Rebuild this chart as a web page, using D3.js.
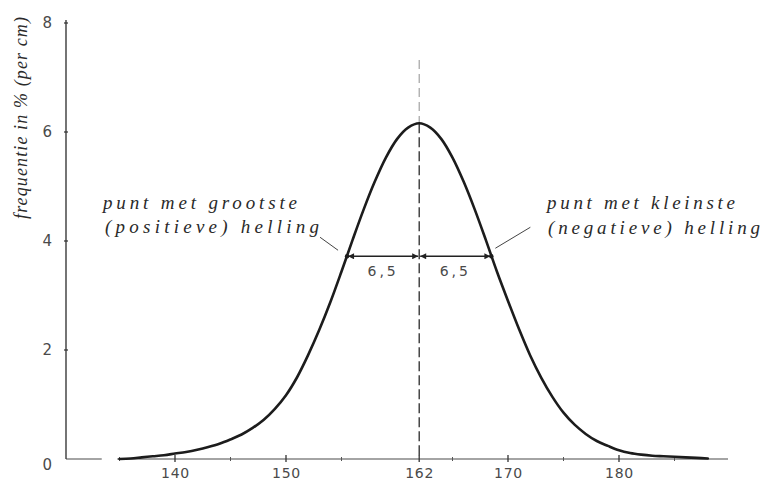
<!DOCTYPE html>
<html>
<head>
<meta charset="utf-8">
<script src="https://cdn.jsdelivr.net/npm/d3@7/dist/d3.min.js"></script>
<style>
  html, body { margin: 0; padding: 0; background: #fff; }
  svg { display: block; }
  .hand { font-family: "Liberation Serif", "DejaVu Serif", serif; font-style: italic; fill: #2a2a2a; }
  .tick-label { font-family: "DejaVu Sans", "Liberation Sans", sans-serif; fill: #4a4a4a; }
</style>
</head>
<body>
<svg id="chart" width="764" height="483"></svg>
<script>
// Body length (cm) and frequency (% per cm) along the bell curve
const lengthCm = [135, 136, 137, 138, 139, 140, 141, 142, 143, 144, 145, 146, 147, 148, 149,
                  150, 151, 152, 153, 154, 155, 156, 157, 158, 159, 160, 161, 162, 163, 164,
                  165, 166, 167, 168, 169, 170, 171, 172, 173, 174, 175, 176, 177, 178, 179,
                  180, 181, 182, 183, 184, 185, 186, 187, 188];
const frequency = [0.00, 0.01, 0.03, 0.05, 0.07, 0.10, 0.13, 0.17, 0.22, 0.28, 0.36, 0.45, 0.57, 0.72, 0.92,
                   1.17, 1.50, 1.91, 2.37, 2.88, 3.44, 4.02, 4.58, 5.09, 5.53, 5.87, 6.08, 6.16, 6.08, 5.87,
                   5.53, 5.09, 4.58, 4.02, 3.44, 2.90, 2.38, 1.90, 1.49, 1.14, 0.85, 0.63, 0.46, 0.33, 0.24,
                   0.16, 0.11, 0.08, 0.06, 0.05, 0.04, 0.03, 0.02, 0.01];

// Axis ticks and labels
const xMajorTicks = [140, 150, 162, 170, 180];
const xMinorTicks = [135, 145, 155, 165, 175, 185];
const yTicks = [0, 2, 4, 6, 8];

// Mean, standard deviation and the height of the inflection points
const meanCm = 162;
const sdCm = 6.5;
const inflectionLevel = 3.72;
const meanLineTop = 7.32;
const sdLabel = "6,5";

const svg = d3.select("#chart");

const x = d3.scaleLinear().domain([140, 180]).range([175, 619]);
const y = d3.scaleLinear().domain([0, 8]).range([459, 23]);

const xStart = x.invert(66);
const xEnd = x.invert(728);

// ---- x axis: thin base line with small crossing ticks
const axisColor = "#4a4a4a";
const baseSegments = [[xStart, 133.4], [134.8, xEnd]];
svg.append("g").selectAll("line")
  .data(baseSegments)
  .join("line")
  .attr("x1", d => x(d[0])).attr("x2", d => x(d[1]))
  .attr("y1", y(0)).attr("y2", y(0))
  .attr("stroke", axisColor).attr("stroke-width", 1.1);

const xAxis = d3.axisBottom(x)
  .tickValues(xMajorTicks)
  .tickFormat(d3.format("d"))
  .tickSize(0)
  .tickPadding(9);
const gx = svg.append("g")
  .attr("transform", `translate(0,${y(0)})`)
  .call(xAxis);
gx.select(".domain").remove();
gx.selectAll("text")
  .attr("class", "tick-label")
  .attr("font-size", 14)
  .attr("letter-spacing", 0.8)
  .attr("fill", "#4a4a4a");

svg.append("g").selectAll("line")
  .data(xMajorTicks)
  .join("line")
  .attr("x1", d => x(d)).attr("x2", d => x(d))
  .attr("y1", y(0) - 4).attr("y2", y(0) + 3)
  .attr("stroke", "#333").attr("stroke-width", 1.3);

svg.append("g").selectAll("line")
  .data(xMinorTicks)
  .join("line")
  .attr("x1", d => x(d)).attr("x2", d => x(d))
  .attr("y1", y(0) - 2).attr("y2", y(0) + 2)
  .attr("stroke", "#555").attr("stroke-width", 1);

// ---- y axis
const yAxis = d3.axisLeft(y)
  .tickValues(yTicks)
  .tickFormat(d3.format("d"))
  .tickSize(0)
  .tickPadding(14);
const gy = svg.append("g")
  .attr("transform", `translate(${x(xStart)},0)`)
  .call(yAxis);
gy.select(".domain")
  .attr("stroke", "#3a3a3a")
  .attr("stroke-width", 1.4)
  .attr("d", `M0,${y(0)}V${y(8) - 3}`);
gy.selectAll("text")
  .attr("class", "tick-label")
  .attr("font-size", 15)
  .attr("fill", "#4a4a4a");
gy.selectAll(".tick").filter(d => d === 0).select("text").attr("dy", "0.7em");

svg.append("g").selectAll("line")
  .data(yTicks.filter(d => d > 0))
  .join("line")
  .attr("x1", x(xStart) - 2).attr("x2", x(xStart) + 2)
  .attr("y1", d => y(d)).attr("y2", d => y(d))
  .attr("stroke", "#333").attr("stroke-width", 1.2);

// y axis title, written bottom to top
svg.append("text")
  .attr("class", "hand")
  .attr("transform", `translate(27,${y(4) - 123}) rotate(-90)`)
  .attr("text-anchor", "middle")
  .attr("font-size", 18)
  .attr("textLength", 202)
  .attr("lengthAdjust", "spacing")
  .attr("fill", "#444")
  .text("frequentie in % (per cm)");

// ---- vertical line through the mean
svg.append("line")
  .attr("x1", x(meanCm)).attr("x2", x(meanCm))
  .attr("y1", y(meanLineTop)).attr("y2", y(6.16))
  .attr("stroke", "#9a9a9a").attr("stroke-width", 1.1)
  .attr("stroke-dasharray", "9,5");
svg.append("line")
  .attr("x1", x(meanCm)).attr("x2", x(meanCm))
  .attr("y1", y(6.16)).attr("y2", y(0))
  .attr("stroke", "#2a2a2a").attr("stroke-width", 1.3)
  .attr("stroke-dasharray", "10,4");

// ---- the bell curve
const points = lengthCm.map((c, i) => [c, frequency[i]]);
const line = d3.line()
  .x(d => x(d[0]))
  .y(d => y(d[1]))
  .curve(d3.curveCatmullRom.alpha(0.5));

svg.append("path")
  .datum(points)
  .attr("fill", "none")
  .attr("stroke", "#1c1c1c")
  .attr("stroke-width", 2.6)
  .attr("stroke-linejoin", "round")
  .attr("stroke-linecap", "round")
  .attr("d", line);

// ---- double-headed arrows of one standard deviation
const defs = svg.append("defs");
defs.append("marker")
  .attr("id", "head")
  .attr("viewBox", "0 0 10 10")
  .attr("refX", 10).attr("refY", 5)
  .attr("markerWidth", 8).attr("markerHeight", 6)
  .attr("markerUnits", "userSpaceOnUse")
  .attr("orient", "auto-start-reverse")
  .append("path")
  .attr("d", "M0,0L10,5L0,10z")
  .attr("fill", "#222");

const spans = [[meanCm - sdCm, meanCm], [meanCm, meanCm + sdCm]];
svg.append("g").selectAll("line")
  .data(spans)
  .join("line")
  .attr("x1", d => x(d[0]) + 1).attr("x2", d => x(d[1]) - 1)
  .attr("y1", y(inflectionLevel)).attr("y2", y(inflectionLevel))
  .attr("stroke", "#222").attr("stroke-width", 1.3)
  .attr("marker-start", "url(#head)")
  .attr("marker-end", "url(#head)");

svg.append("g").selectAll("text")
  .data(spans)
  .join("text")
  .attr("class", "tick-label")
  .attr("x", d => x((d[0] + d[1]) / 2))
  .attr("y", y(inflectionLevel) + 20)
  .attr("text-anchor", "middle")
  .attr("font-size", 14)
  .attr("letter-spacing", 3)
  .attr("fill", "#333")
  .text(sdLabel);

// inflection markers
svg.append("g").selectAll("circle")
  .data([meanCm - sdCm, meanCm + sdCm])
  .join("circle")
  .attr("cx", d => x(d)).attr("cy", y(inflectionLevel))
  .attr("r", 2.2).attr("fill", "#1c1c1c");

// ---- leader lines and handwritten notes
const lx = x(meanCm - sdCm), rx = x(meanCm + sdCm), ly = y(inflectionLevel);
svg.append("line")
  .attr("x1", lx - 9).attr("y1", ly - 6)
  .attr("x2", lx - 27).attr("y2", ly - 19)
  .attr("stroke", "#444").attr("stroke-width", 1);
svg.append("line")
  .attr("x1", rx + 4).attr("y1", ly - 8)
  .attr("x2", rx + 39).attr("y2", ly - 29)
  .attr("stroke", "#444").attr("stroke-width", 1);

const notes = [
  { t: "punt met grootste", x: 103, y: 209, w: 194 },
  { t: "(positieve) helling", x: 105, y: 233, w: 214 },
  { t: "punt met kleinste", x: 547, y: 209, w: 188 },
  { t: "(negatieve) helling", x: 548, y: 234, w: 212 }
];
svg.append("g").selectAll("text")
  .data(notes)
  .join("text")
  .attr("class", "hand")
  .attr("x", d => d.x).attr("y", d => d.y)
  .attr("font-size", 19)
  .attr("textLength", d => d.w)
  .attr("lengthAdjust", "spacing")
  .text(d => d.t);
</script>
</body>
</html>
